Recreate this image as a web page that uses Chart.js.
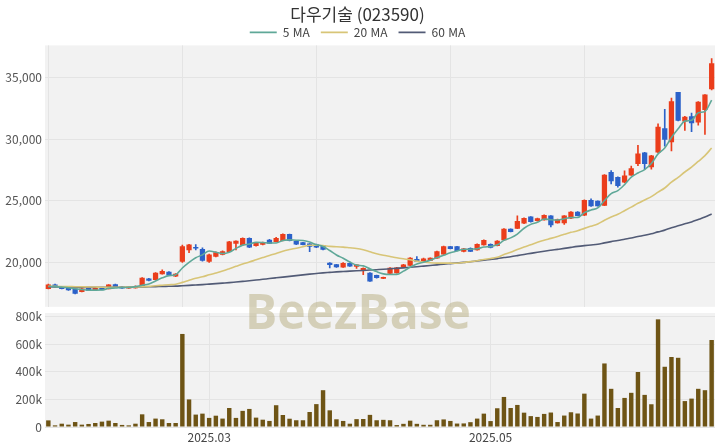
<!DOCTYPE html>
<html lang="ko">
<head>
<meta charset="utf-8">
<script src="https://cdn.jsdelivr.net/npm/chart.js@4.4.1/dist/chart.umd.min.js"></script>
<style>
    html, body { margin: 0; padding: 0; background: #fff; }
    #wrap { position: relative; width: 720px; height: 448px; overflow: hidden; }
    #priceBox { position: absolute; left: 0; top: 0; width: 720px; height: 317px; }
    #volBox { position: absolute; left: 0; top: 300px; width: 720px; height: 148px; }
    #mark {
        position: absolute; left: -2px; top: 278px; width: 720px; text-align: center;
        font: bold 48px 'Open Sans', sans-serif; color: rgba(188, 178, 136, 0.55);
        pointer-events: none;
    }
</style>
</head>
<body>
<div id="wrap">
    <div id="priceBox"><canvas id="priceChart"></canvas></div>
    <div id="volBox"><canvas id="volChart"></canvas></div>
    <div id="mark">BeezBase</div>
</div>
<script>
// 거래일 (2025.01.22 ~ 2025.06.24)
const dates = [
    '2025-01-22','2025-01-23','2025-01-24','2025-01-31',
    '2025-02-03','2025-02-04','2025-02-05','2025-02-06','2025-02-07','2025-02-10','2025-02-11','2025-02-12','2025-02-13','2025-02-14',
    '2025-02-17','2025-02-18','2025-02-19','2025-02-20','2025-02-21','2025-02-24','2025-02-25','2025-02-26','2025-02-27','2025-02-28',
    '2025-03-04','2025-03-05','2025-03-06','2025-03-07','2025-03-10','2025-03-11','2025-03-12','2025-03-13','2025-03-14',
    '2025-03-17','2025-03-18','2025-03-19','2025-03-20','2025-03-21','2025-03-24','2025-03-25','2025-03-26','2025-03-27','2025-03-28','2025-03-31',
    '2025-04-01','2025-04-02','2025-04-03','2025-04-04','2025-04-07','2025-04-08','2025-04-09','2025-04-10','2025-04-11',
    '2025-04-14','2025-04-15','2025-04-16','2025-04-17','2025-04-18','2025-04-21','2025-04-22','2025-04-23','2025-04-24','2025-04-25',
    '2025-04-28','2025-04-29','2025-04-30',
    '2025-05-02','2025-05-07','2025-05-08','2025-05-09','2025-05-12','2025-05-13','2025-05-14','2025-05-15','2025-05-16',
    '2025-05-19','2025-05-20','2025-05-21','2025-05-22','2025-05-23','2025-05-26','2025-05-27','2025-05-28','2025-05-29','2025-05-30',
    '2025-06-02','2025-06-04','2025-06-05','2025-06-09','2025-06-10','2025-06-11','2025-06-12','2025-06-13',
    '2025-06-16','2025-06-17','2025-06-18','2025-06-19','2025-06-20','2025-06-23','2025-06-24'
];

const opens = [
    17870,18180,18020,17900,17860,17620,17920,17780,17940,17860,18210,18020,17920,17940,18100,18660,18610,19060,19220,18880,
    20080,21020,21200,21070,20080,20480,20640,20880,21550,21420,21950,21360,21450,21820,21690,21770,22270,21710,21600,21500,
    21450,21360,19950,19820,19620,19930,19680,19350,19140,18950,18700,19100,19150,19620,19760,20250,20080,20160,20350,20670,
    21280,21280,20900,21150,21020,21420,21470,21360,21820,22700,22760,23180,23690,23380,23450,23770,23210,23200,23580,24090,
    23830,25030,24970,24630,27300,26900,26500,27080,28000,28880,27750,28950,30850,29780,33790,31450,31820,31380,32390,34080
];
const highs = [
    18250,18250,18050,17930,17880,17900,17960,17970,17970,18210,18250,18050,18050,18100,18770,18700,19170,19400,19260,19100,
    21400,21470,21450,21180,20680,20850,20940,21700,21760,22000,22000,21600,21650,21870,22040,22320,22300,21740,21630,21530,
    21480,21380,19980,19850,19980,19960,19830,19560,19170,18980,18820,19580,19600,19850,20400,20480,20350,20380,20920,21320,
    21310,21310,21150,21180,21500,21840,21500,21770,22750,22730,23770,23620,23720,23600,23860,23800,23510,23800,24130,24120,
    25080,25160,25000,27120,27440,26950,27430,27820,29500,28920,28680,31230,32420,33320,33800,31850,32120,33050,33620,36530
];
const lows = [
    17840,17990,17850,17730,17450,17600,17700,17760,17760,17840,17960,17900,17900,17920,18080,18500,18580,19040,18950,18850,
    20000,20800,21020,20100,20000,20450,20600,20850,21020,21380,21200,21320,21420,21520,21660,21740,21740,21440,21410,20880,
    21200,21020,19560,19600,19600,19670,19520,19010,18450,18730,18680,19080,19120,19600,19740,20050,20050,20140,20320,20640,
    21100,20930,20850,20880,21000,21390,21180,21330,21800,22470,22730,23150,23270,23350,23420,22880,23180,23080,23550,23770,
    23800,24550,24560,24600,26360,26100,26470,27050,27840,27570,27570,28900,29420,29040,31480,30700,30610,31130,30380,33990
];
const closes = [
    18180,18020,17880,17760,17490,17860,17730,17940,17780,18180,17990,17920,18020,18070,18720,18530,19140,19280,18980,19060,
    21280,21420,21150,20160,20620,20800,20880,21660,21720,21950,21230,21550,21600,21550,21950,22270,21770,21470,21440,21290,
    21230,21050,19820,19640,19930,19700,19800,19530,18480,18760,18790,19540,19560,19810,20350,20080,20300,20350,20880,21280,
    21120,20960,21100,20900,21470,21800,21210,21740,22700,22500,23340,23580,23300,23560,23820,23050,23480,23770,24090,23800,
    25030,24580,24590,27090,26600,26230,27030,27600,28800,28000,28640,30980,29980,33050,31510,31780,31320,33010,33590,36130
];
const volumes = [
    48000,12000,24000,17000,36000,17000,22000,29000,39000,46000,29000,15000,12000,24000,92000,36000,61000,56000,29000,29000,
    675000,200000,90000,97000,66000,82000,61000,138000,66000,117000,131000,68000,53000,44000,158000,87000,60000,49000,49000,109000,
    166000,267000,121000,56000,44000,24000,57000,58000,88000,49000,52000,49000,14000,23000,46000,23000,16000,16000,49000,55000,
    44000,25000,26000,35000,61000,97000,43000,136000,218000,138000,160000,104000,79000,73000,95000,105000,36000,83000,107000,98000,
    242000,61000,83000,461000,277000,138000,211000,248000,399000,233000,165000,781000,437000,508000,502000,188000,206000,277000,267000,631000
];

const ma5 = [
    18050,18040,18000,17950,17866,17802,17744,17756,17760,17898,17924,17962,17978,18036,18144,18252,18496,18748,18930,18998,
    19548,20004,20378,20614,20926,20830,20722,20824,21136,21402,21488,21622,21610,21576,21576,21784,21828,21802,21780,21648,
    21440,21296,20966,20606,20334,20028,19778,19720,19488,19254,19072,19020,19026,19292,19610,19868,20020,20178,20392,20578,
    20786,20918,21068,21072,21110,21246,21296,21424,21784,21990,22298,22772,23084,23256,23520,23462,23442,23536,23642,23638,
    24034,24254,24418,25018,25578,25818,26308,26910,27252,27532,28014,28804,29280,30130,30832,31460,31528,32134,32242,33166
];
const ma20 = [
    18070,18060,18050,18040,18030,18020,18010,18000,17990,17990,17990,17990,18000,18010,18030,18060,18110,18150,18190,18227,
    18382,18552,18715,18835,18992,19139,19296,19482,19679,19868,20030,20211,20390,20564,20726,20913,21044,21154,21277,21388,
    21386,21367,21301,21275,21240,21185,21131,21025,20863,20703,20581,20481,20379,20292,20212,20102,20029,19973,19945,19944,
    19939,19934,19998,20061,20138,20243,20314,20424,20635,20822,21050,21252,21439,21626,21800,21948,22107,22278,22439,22565,
    22760,22941,23116,23425,23682,23903,24194,24487,24792,25067,25332,25702,26036,26511,26895,27332,27724,28186,28661,29277
];
const ma60 = [
    18020,18010,18000,17990,17980,17980,17975,17975,17975,17980,17980,17985,17990,17995,18010,18020,18035,18050,18065,18080,
    18110,18140,18170,18200,18240,18280,18320,18360,18410,18460,18510,18570,18630,18690,18750,18810,18870,18930,18990,19050,
    19100,19150,19190,19230,19260,19290,19320,19350,19380,19410,19440,19480,19520,19560,19610,19650,19700,19750,19800,19853,
    19902,19951,20005,20057,20123,20189,20247,20310,20392,20464,20553,20648,20736,20827,20912,20988,21060,21135,21220,21299,
    21361,21414,21471,21587,21687,21777,21880,21979,22097,22197,22321,22478,22618,22809,22969,23127,23286,23479,23681,23929
];

// 축 눈금
const priceTicks = [20000, 25000, 30000, 35000];
const volTicks = [0, 200000, 400000, 600000, 800000];
// 하단 거래량 차트에 표시할 월 라벨
const volTickDates = ['2025-03-04', '2025-05-02'];
const volTickLabels = ['2025.03', '2025.05'];

const UP = '#eb3e1c';
const DOWN = '#2c62c9';
const candleColors = closes.map((c, i) => (c >= opens[i] ? UP : DOWN));

Chart.defaults.font.family = "'Noto Sans CJK KR', 'Noto Sans', sans-serif";
Chart.defaults.font.size = 12;
Chart.defaults.color = '#555';
Chart.defaults.animation = false;

// 플롯 영역 배경색
const plotBg = {
    id: 'plotBg',
    beforeDraw(chart) {
        const { ctx, chartArea: a } = chart;
        ctx.save();
        ctx.fillStyle = '#f2f2f2';
        ctx.fillRect(a.left, a.top, a.right - a.left, a.bottom - a.top);
        ctx.restore();
    }
};

const fixWidth = scale => { scale.width = 45; };

new Chart(document.getElementById('priceChart'), {
    type: 'bar',
    data: {
        labels: dates,
        datasets: [
            { type: 'line', label: '5 MA', data: ma5, borderColor: '#5fa898', borderWidth: 1.6,
              pointRadius: 0, cubicInterpolationMode: 'monotone', order: 0 },
            { type: 'line', label: '20 MA', data: ma20, borderColor: '#d8c577', borderWidth: 1.6,
              pointRadius: 0, cubicInterpolationMode: 'monotone', order: 0 },
            { type: 'line', label: '60 MA', data: ma60, borderColor: '#525b76', borderWidth: 1.6,
              pointRadius: 0, cubicInterpolationMode: 'monotone', order: 0 },
            { label: 'wick', data: lows.map((l, i) => [l, highs[i]]), backgroundColor: candleColors,
              barThickness: 1, grouped: false, order: 1 },
            { label: 'body', data: opens.map((o, i) => [o, closes[i]]), backgroundColor: candleColors,
              barThickness: 4.6, minBarLength: 1, grouped: false, order: 1 }
        ]
    },
    options: {
        responsive: true, maintainAspectRatio: false,
        layout: { padding: { top: 0, right: 5, bottom: 1, left: 0 } },
        scales: {
            x: {
                afterFit: s => { s.height = 0; },
                ticks: { display: false },
                border: { display: false },
                grid: {
                    offset: false, drawTicks: false,
                    color: c => (c.index % 20 === 0 ? '#e4e4e4' : 'transparent')
                }
            },
            y: {
                min: 16400, max: 37600,
                afterFit: fixWidth,
                afterBuildTicks: s => { s.ticks = priceTicks.map(v => ({ value: v })); },
                border: { display: false },
                grid: { color: '#e4e4e4', drawTicks: false },
                ticks: { padding: 3, callback: v => v.toLocaleString('en-US') }
            }
        },
        plugins: {
            title: {
                display: true, text: '다우기술 (023590)', color: '#333',
                font: { size: 17, weight: 'normal' }, padding: { top: 4, bottom: -9 }
            },
            legend: {
                maxHeight: 30,
                labels: {
                    usePointStyle: true, pointStyle: 'line', pointStyleWidth: 27,
                    padding: 11, color: '#444', font: { size: 12 },
                    filter: item => item.text.includes('MA')
                }
            },
            tooltip: { enabled: false }
        }
    },
    plugins: [plotBg]
});

new Chart(document.getElementById('volChart'), {
    type: 'bar',
    data: {
        labels: dates,
        datasets: [{
            label: '거래량', data: volumes, backgroundColor: '#6e5415',
            barPercentage: 0.66, categoryPercentage: 1
        }]
    },
    options: {
        responsive: true, maintainAspectRatio: false,
        layout: { padding: { top: 13, right: 5, bottom: 0, left: 0 } },
        scales: {
            x: {
                afterFit: s => { s.height = 21; },
                border: { display: false },
                grid: {
                    offset: false, drawTicks: false,
                    color: c => (volTickDates.includes(dates[c.index]) ? '#e4e4e4' : 'transparent')
                },
                ticks: {
                    autoSkip: false, maxRotation: 0, padding: 3, color: '#444',
                    callback: (v, i) => {
                        const k = volTickDates.indexOf(dates[i]);
                        return k >= 0 ? volTickLabels[k] : '';
                    }
                }
            },
            y: {
                min: 0, max: 827000,
                afterFit: fixWidth,
                afterBuildTicks: s => { s.ticks = volTicks.map(v => ({ value: v })); },
                border: { display: false },
                grid: { color: '#e4e4e4', drawTicks: false },
                ticks: { padding: 3, callback: v => (v === 0 ? '0' : (v / 1000) + 'k') }
            }
        },
        plugins: { legend: { display: false }, tooltip: { enabled: false } }
    },
    plugins: [plotBg]
});
</script>
</body>
</html>
